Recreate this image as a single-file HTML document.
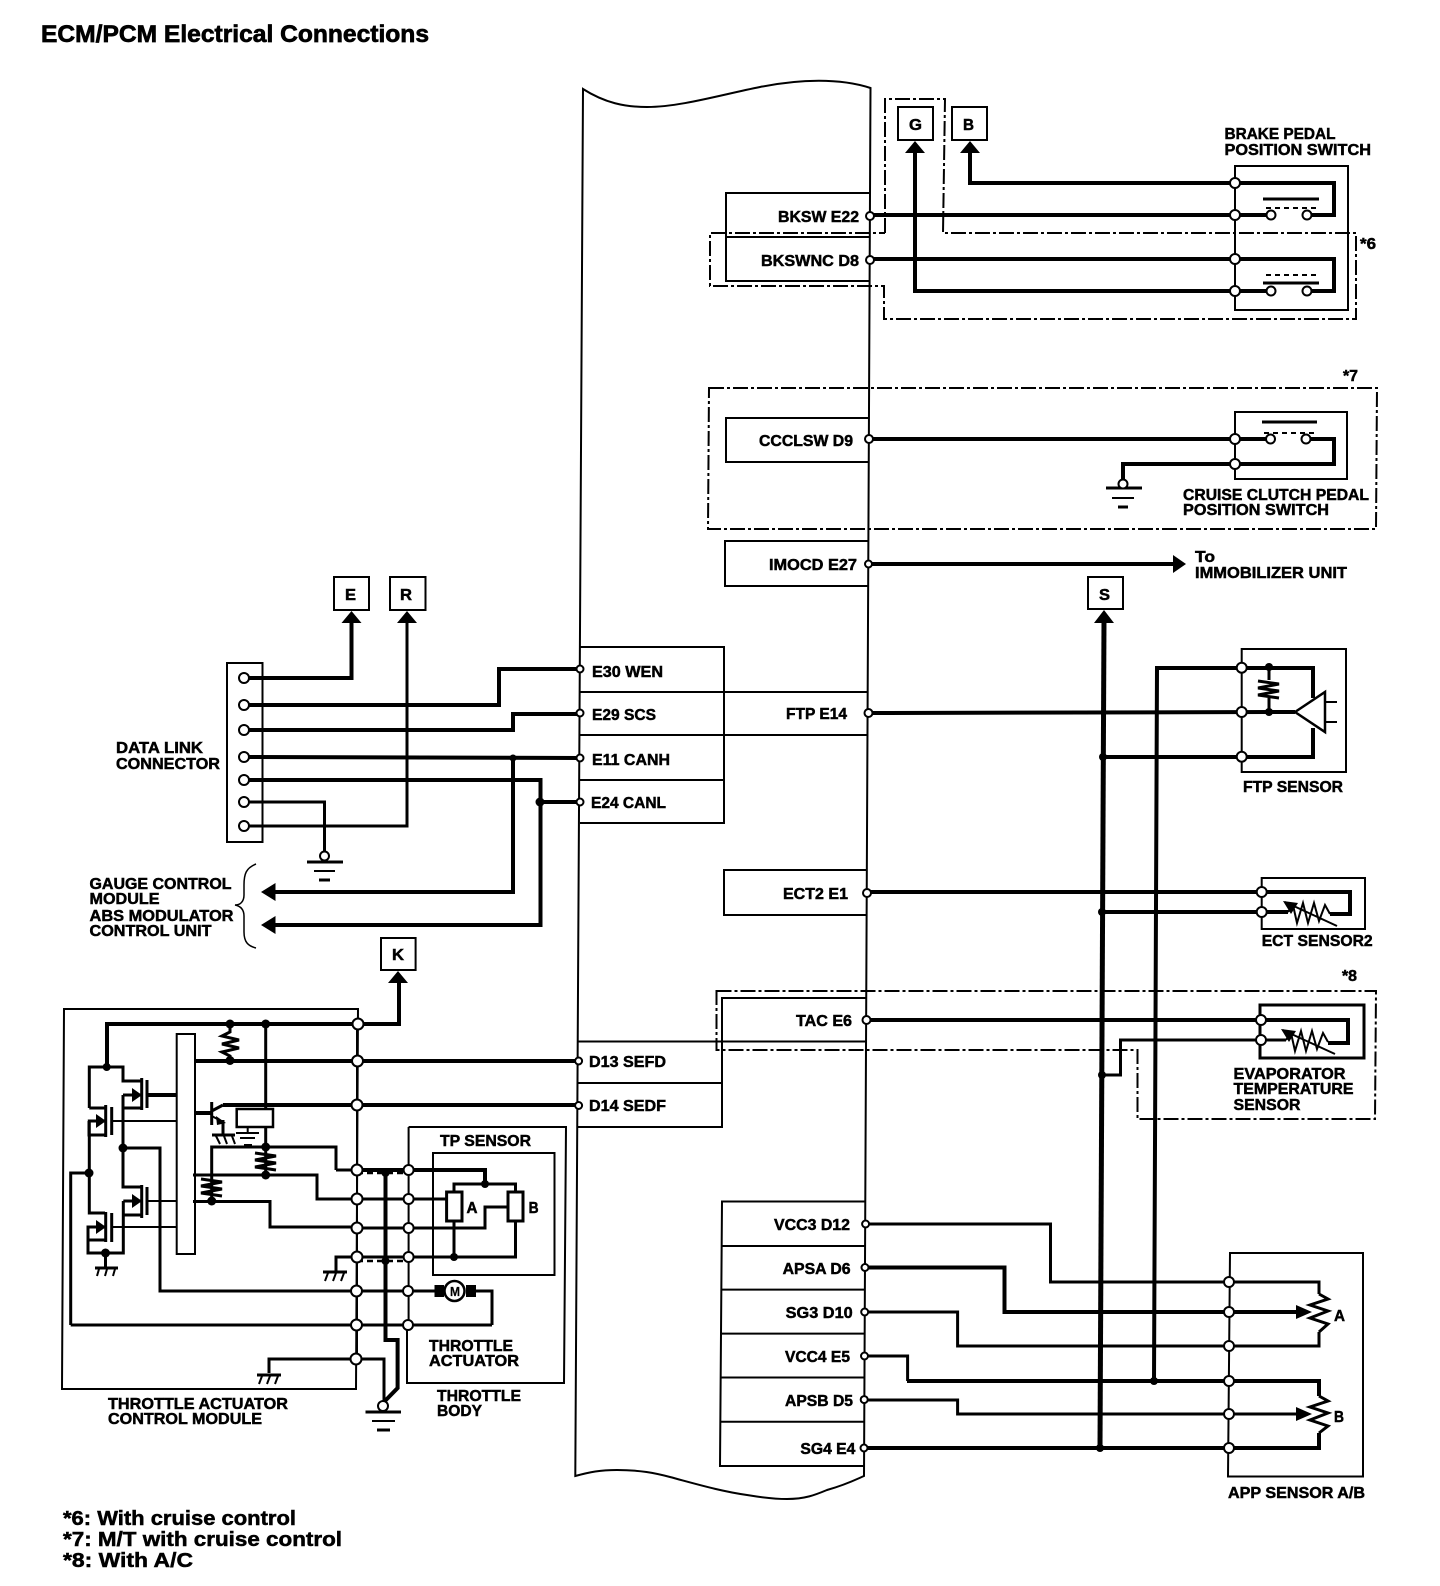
<!DOCTYPE html>
<html><head><meta charset="utf-8"><title>ECM/PCM Electrical Connections</title>
<style>
html,body{margin:0;padding:0;background:#fff}
svg{display:block}
text{font-family:"Liberation Sans",sans-serif;font-weight:bold;font-size:16px;fill:#000;stroke:#000;stroke-width:.5}
.w5{fill:none;stroke:#000;stroke-width:5}
.w4{fill:none;stroke:#000;stroke-width:4}
.w3{fill:none;stroke:#000;stroke-width:3}
.w2{fill:none;stroke:#000;stroke-width:2}
.dd{fill:none;stroke:#000;stroke-width:2;stroke-dasharray:15 3 3 3}
.d{fill:none;stroke:#000;stroke-width:2.5;stroke-dasharray:6 4}
.o{fill:#fff;stroke:#000;stroke-width:2}
</style></head><body>
<svg xmlns="http://www.w3.org/2000/svg" width="1440" height="1586" viewBox="0 0 1440 1586">
<rect width="1440" height="1586" fill="#fff"/>
<text x="41" y="42" style="font-size:24px;stroke-width:.7" textLength="388" lengthAdjust="spacingAndGlyphs">ECM/PCM Electrical Connections</text>

<!-- ECM body -->
<path class="w2" d="M583 89 C605 103 625 107 647 107 C680 107 720 95 760 87 C800 79 840 78 870.5 88 L864 1476 C855 1480 845 1485 827 1490 C815 1495 805 1499 787 1499 C775 1499 765 1498 747 1495 C720 1491 700 1485 670 1477 C655 1473 640 1470 617 1470 C600 1470 590 1472 575.3 1476 Z"/>

<!-- ECM pin boxes -->
<path class="w2" d="M870 193H726V281H870M726 237H870"/>
<path class="w2" d="M869 418H726V462H869"/>
<path class="w2" d="M868 541H725V586H868"/>
<path class="w2" d="M580 647H724V823H580M580 692H868M580 735H868M580 780H724"/>
<path class="w2" d="M867 870H724V915H867"/>
<path class="w2" d="M866 998H722V1127H578M578 1041.5H866M578 1083H722"/>
<path class="w2" d="M865 1201.5H722L720 1466H864M722 1246H865M722 1289.6H865M721 1333.6H865M721 1377.5H865M720 1421.8H864"/>

<!-- dash-dot option boxes -->
<path class="dd" d="M885 233V99H945L943 233H1356V319H884V286H710V233H885"/>
<path class="dd" d="M709 388H1377L1376 529H708Z"/>
<path class="dd" d="M716.5 991H1376L1375 1119H1137.5V1050H716.5Z"/>

<!-- Brake switch -->
<rect class="w2" x="898" y="107" width="35" height="33"/>
<rect class="w2" x="952" y="107" width="35" height="33"/>
<path class="w4" d="M970 150V183H1334V215H1307M870 215H1271"/>
<path class="w4" d="M870 259H1334V291H1307M1271 291H915V150"/>
<path d="M905 153L915 141L925 153Z M960 153L970 141L980 153Z"/>
<path class="w2" d="M1235 166H1348V310H1235Z"/>
<path class="w3" d="M1263 199H1319M1263 283H1319"/>
<path class="w2" d="M1266 208H1316M1266 275H1316" stroke-dasharray="5 4"/>
<circle class="o" cx="870" cy="216" r="4"/><circle class="o" cx="870" cy="260" r="4"/>
<circle class="o" cx="1235" cy="183" r="5"/><circle class="o" cx="1235" cy="215" r="5"/><circle class="o" cx="1235" cy="259" r="5"/><circle class="o" cx="1235" cy="291" r="5"/>
<circle class="o" cx="1271" cy="215" r="4.5"/><circle class="o" cx="1307" cy="215" r="4.5"/><circle class="o" cx="1271" cy="291" r="4.5"/><circle class="o" cx="1307" cy="291" r="4.5"/>

<!-- Cruise clutch -->
<path class="w2" d="M1235 412H1347V479H1235Z"/>
<path class="w4" d="M869 439H1270M1306 439H1334V464H1123V482"/>
<path class="w3" d="M1262 422H1317"/>
<path class="w2" d="M1264 433H1316" stroke-dasharray="5 4"/>
<circle class="o" cx="869" cy="439" r="4"/><circle class="o" cx="1235" cy="439" r="5"/><circle class="o" cx="1235" cy="464" r="5"/><circle class="o" cx="1270.5" cy="439" r="4.5"/><circle class="o" cx="1306" cy="439" r="4.5"/>
<path class="w3" d="M1106 488H1142"/><path class="w2" d="M1112 498H1134"/><path class="w3" d="M1118 507H1128"/>
<circle class="o" cx="1123" cy="484" r="4.5"/>

<!-- IMOCD -->
<path class="w4" d="M869 564H1175"/>
<path d="M1173 555L1186 564L1173 573Z"/>
<circle class="o" cx="868.5" cy="564" r="3.5"/>

<!-- S and main return -->
<rect class="w2" x="1088" y="577" width="35" height="32"/>
<path d="M1094 623L1104 610L1114 623Z"/>
<path class="w5" d="M1104 620L1100 1448"/>
<path class="w4" d="M1154 1381L1157 668H1313V698M1103 757H1313V728"/>

<!-- FTP -->
<path class="w2" d="M1241.7 649H1346V772H1241.7Z"/>
<path class="w4" d="M868 713L1295 712"/>
<path class="o" style="stroke-width:2.5" d="M1295 712L1325 692V732Z"/>
<path class="w2" d="M1325 702H1337M1325 722H1337"/>
<path class="w3" d="M1269 667V680M1269 698V712"/>
<path class="w3" d="M1258 681L1279 684L1258 688L1279 691L1258 695L1279 698"/>
<circle cx="1269" cy="667" r="4"/><circle cx="1269" cy="712" r="4"/><circle cx="1103" cy="757" r="4"/>
<circle class="o" cx="868.5" cy="713" r="4"/>
<circle class="o" cx="1241.7" cy="667.7" r="5"/><circle class="o" cx="1241.7" cy="712" r="5"/><circle class="o" cx="1241.7" cy="756.7" r="5"/>

<!-- ECT2 -->
<path class="w2" d="M1261.7 878H1365V929H1261.7Z"/>
<path class="w4" d="M867 892H1350V914H1330M1102 912H1288"/>
<path class="w2" d="M1288 912L1293 905L1297 923L1303 903L1308 923L1314 903L1319 921L1325 905L1330 914M1285 902L1337 926"/>
<path d="M1283 901L1298 903L1291 914Z"/>
<circle cx="1102" cy="912" r="4"/>
<circle class="o" cx="867" cy="893" r="4"/><circle class="o" cx="1261.7" cy="892" r="5"/><circle class="o" cx="1261.7" cy="912" r="5"/>

<!-- Evaporator -->
<path class="w2" d="M1260 1005H1364V1058H1260Z" style="stroke-width:3"/>
<path class="w4" d="M866 1020H1348V1043H1328"/>
<path class="w3" d="M1102 1075H1120.5V1040H1286"/>
<path class="w2" d="M1286 1040L1291 1033L1295 1051L1301 1031L1306 1051L1312 1031L1317 1049L1323 1033L1328 1042M1282.6 1030L1335 1054"/>
<path d="M1281 1029L1296 1031L1289 1042Z"/>
<circle cx="1102" cy="1075" r="4"/>
<circle class="o" cx="866.5" cy="1020" r="4"/><circle class="o" cx="1261" cy="1020" r="5"/><circle class="o" cx="1261" cy="1040" r="5"/>

<!-- APP sensor -->
<path class="w2" d="M1230 1253H1363V1476.5H1228Z"/>
<path class="w3" d="M866 1224H1050.5V1282H1319V1294"/>
<path class="w4" d="M865 1267.5H1004.5V1312H1298"/>
<path class="w3" d="M865 1312H957.6V1346H1319V1332"/>
<path class="w3" d="M865 1356H907.6V1381"/>
<path class="w4" d="M907 1381H1319V1396"/>
<path class="w3" d="M865 1400H957.6V1414H1298"/>
<path class="w4" d="M864 1448H1319V1433"/>
<path class="w3" d="M1319 1294L1328 1299L1310 1305L1328 1311L1310 1318L1328 1324L1319 1332M1319 1396L1328 1401L1310 1407L1328 1413L1310 1420L1328 1426L1319 1433"/>
<path d="M1296 1305L1312 1312L1296 1319Z M1296 1407L1312 1414L1296 1421Z"/>
<circle cx="1154" cy="1381" r="4"/><circle cx="1100" cy="1448" r="4"/>
<g>
<circle class="o" cx="865.6" cy="1224" r="3.5"/><circle class="o" cx="865" cy="1267.5" r="3.5"/><circle class="o" cx="864.7" cy="1312" r="3.5"/><circle class="o" cx="864.5" cy="1356" r="3.5"/><circle class="o" cx="864.2" cy="1399.6" r="3.5"/><circle class="o" cx="864" cy="1448" r="3.5"/>
<circle class="o" cx="1229" cy="1282" r="5"/><circle class="o" cx="1229" cy="1312" r="5"/><circle class="o" cx="1229" cy="1346" r="5"/><circle class="o" cx="1229" cy="1381" r="5"/><circle class="o" cx="1229" cy="1414" r="5"/><circle class="o" cx="1229" cy="1448" r="5"/>
</g>

<!-- Data link connector -->
<rect class="w2" x="227" y="663" width="35.5" height="179"/>
<rect class="w2" x="334" y="577" width="35" height="33"/>
<rect class="w2" x="390" y="577" width="35.5" height="33"/>
<rect class="w2" x="381" y="938" width="34.6" height="32"/>
<path class="w4" d="M244 678H351.5V620"/>
<path class="w3" d="M244 826H407V620"/>
<path class="w4" d="M244 705H499V669H580"/>
<path class="w4" d="M244 730H513V714H580"/>
<path class="w4" d="M244 757L580 758M513 758V892H272"/>
<path class="w4" d="M244 780H540.5V925H272M540 802H580"/>
<path class="w3" d="M244 802H324.5V852"/>
<path d="M341.5 623L351.5 611L361.5 623Z M397 623L407 611L417 623Z M388 983L398 971L408 983Z M275.5 883L261 892L275.5 901Z M275.5 916L261 925L275.5 934Z"/>
<circle cx="513" cy="758" r="3.5"/><circle cx="540" cy="802" r="4.5"/>
<path class="w3" d="M307 862H343"/><path class="w2" d="M314 871H335"/><path class="w3" d="M319 880H330"/>
<circle class="o" cx="324.5" cy="856" r="4.5"/>
<g>
<circle class="o" cx="244" cy="678" r="5"/><circle class="o" cx="244" cy="705" r="5"/><circle class="o" cx="244" cy="730" r="5"/><circle class="o" cx="244" cy="757" r="5"/><circle class="o" cx="244" cy="780" r="5"/><circle class="o" cx="244" cy="802" r="5"/><circle class="o" cx="244" cy="826" r="5"/>
<circle class="o" cx="580" cy="669" r="3.5"/><circle class="o" cx="580" cy="713" r="3.5"/><circle class="o" cx="580" cy="758" r="3.5"/><circle class="o" cx="580" cy="802" r="3.5"/>
</g>
<path class="w2" style="stroke-width:1.5" d="M256 864C246 868 244 874 244 885V895C244 902 240 905 235 905C240 906 244 909 244 916V932C244 942 248 946 256 948"/>

<!-- TAC module -->
<path class="w2" d="M64 1009H358L356 1389H62Z"/>
<rect class="w2" x="176.7" y="1034" width="18.3" height="220"/>
<path class="w4" d="M399 983V1024H107V1067"/>
<path class="w3" d="M89.3 1108V1067H123V1081H141.7"/>
<path class="w3" d="M89.3 1108H105M123 1095V1187H141.7M123 1108H141.7M123 1095H141.7"/>
<path class="w3" d="M141.7 1078V1110M105.7 1105V1137M141.7 1185V1218M105.7 1212V1242"/>
<path class="w3" d="M147 1080V1108M111.7 1107V1135M147 1187V1215M111.7 1213V1242"/>
<path class="w4" d="M147 1095H176.7"/>
<path class="w2" d="M111.7 1121H176.7M147 1201H176.7M111.7 1227H176.7"/>
<path class="w3" d="M105.7 1121H89.3V1213H105M89 1121V1135H105.7M70.7 1325V1173H89"/>
<path class="w3" d="M123.3 1201H141.7M123.3 1201V1253H88V1227H105.7M88 1240H105.7M123.3 1215H141.7"/>
<path class="w3" d="M123 1148H160V1291H357"/>
<path class="w3" d="M70.7 1325H492"/>
<path d="M132 1088L142 1095L132 1102Z M96 1114L106 1121L96 1128Z M132 1194L142 1201L132 1208Z M96 1220L106 1227L96 1234Z"/>
<circle cx="106.7" cy="1067" r="4"/><circle cx="89" cy="1173" r="4.5"/><circle cx="123" cy="1148" r="4.5"/><circle cx="105.5" cy="1253" r="4.5"/>
<path class="w3" d="M105.5 1253V1268M95 1268H118"/><path class="w2" d="M99 1269L97 1276M107 1269L105 1276M115 1269L113 1276"/>

<path class="w4" d="M195 1061H578"/>
<path class="w3" d="M230 1024V1032L222 1036L239 1040L222 1044L239 1048L222 1052L230 1056V1061"/>
<circle cx="230" cy="1024" r="4.5"/><circle cx="230" cy="1060.5" r="4.5"/><circle cx="265.7" cy="1024" r="4.5"/>
<path class="w3" d="M265.7 1024V1147"/>
<path class="w4" d="M223 1105H578"/>
<path class="w3" d="M211.7 1111L223 1105M211.7 1102V1125"/>
<path class="w4" d="M195 1113H211.7"/>
<path class="w2" d="M211.7 1116L223 1122"/><path d="M216 1116L226 1123L217 1125Z"/>
<path class="w3" d="M223 1120V1135M212 1135H235"/>
<path class="w2" d="M216 1136L220 1144M224 1136L227 1144M232 1136L235 1144"/>
<rect class="o" style="stroke-width:2.5" x="236.7" y="1109" width="36.3" height="18"/>
<path class="w2" d="M247.7 1127V1133M236 1133H259"/><path class="w2" d="M240 1138H255M244 1145H252"/>
<path class="w3" d="M336 1170H357M211.7 1201V1147H336V1170"/>
<path class="w3" d="M193 1175H317V1199H357M193 1201.5H270V1227H357"/>
<path class="w3" d="M265.7 1147V1175"/>
<path class="w3" d="M255 1153L276 1156L255 1160L276 1163L255 1167L276 1170"/>
<path class="w3" d="M201 1179L222 1182L201 1186L222 1189L201 1193L222 1196"/>
<circle cx="265.7" cy="1147" r="4.5"/><circle cx="265.7" cy="1175" r="4.5"/><circle cx="211.7" cy="1201" r="4.5"/>
<path class="w3" d="M357 1257H336V1272M323 1272H347"/><path class="w2" d="M328 1273L325 1281M336 1273L333 1281M344 1273L341 1281"/>

<!-- throttle body -->
<path class="w2" d="M408.6 1127H566L564 1383H407V1325"/>
<path class="w2" d="M408.6 1127V1325M357 1024V1359"/>
<path class="w2" d="M433 1153H554.5V1275H433Z"/>
<path class="w4" d="M357 1170H485V1184"/>
<path class="w3" d="M454 1192V1184H515.5V1192"/>
<path class="w3" d="M357 1199H446.6"/>
<path class="w3" d="M357 1228H485V1207H508"/>
<path class="w3" d="M454 1221V1257M515.5 1221V1257H357"/>
<rect class="o" style="stroke-width:3" x="446.6" y="1192" width="15.4" height="29"/>
<rect class="o" style="stroke-width:3" x="508" y="1192" width="15" height="29"/>
<circle cx="485" cy="1184" r="4"/><circle cx="454" cy="1257" r="4"/>
<path class="w3" d="M357 1291H435M475 1291H492V1325"/>
<path d="M434.5 1285H444V1297H434.5Z M466 1285H476V1297H466Z"/>
<circle class="o" style="stroke-width:2.5" cx="454.5" cy="1291" r="10"/>
<text x="450" y="1296" style="font-size:13px;stroke-width:.2" textLength="10" lengthAdjust="spacingAndGlyphs">M</text>
<path class="w3" d="M269 1373V1359H357M384 1403V1359H357"/>
<path class="w4" d="M385.5 1173V1340H397.6V1388L383 1403"/>
<path class="d" d="M357 1173H408M357 1261H408"/>
<circle cx="385.5" cy="1173" r="4"/><circle cx="385.5" cy="1261" r="4"/>
<path class="w3" d="M257 1375H281"/><path class="w2" d="M262 1376L259 1384M270 1376L267 1384M278 1376L275 1384"/>
<path class="w3" d="M365.5 1412H401"/><path class="w2" d="M372 1421H395"/><path class="w3" d="M377 1430H390"/>
<circle class="o" cx="383" cy="1406" r="5"/>
<g>
<circle class="o" cx="358" cy="1024" r="5.5"/><circle class="o" cx="357.5" cy="1061" r="5.5"/><circle class="o" cx="357" cy="1105" r="5.5"/><circle class="o" cx="357" cy="1170" r="5.5"/><circle class="o" cx="357" cy="1199" r="5.5"/><circle class="o" cx="357" cy="1228" r="5.5"/><circle class="o" cx="357" cy="1257" r="5.5"/><circle class="o" cx="356.5" cy="1291" r="5.5"/><circle class="o" cx="356.5" cy="1325" r="5.5"/><circle class="o" cx="356" cy="1359" r="5.5"/>
<circle class="o" cx="408.6" cy="1170" r="5"/><circle class="o" cx="408.6" cy="1199" r="5"/><circle class="o" cx="408.6" cy="1228" r="5"/><circle class="o" cx="408.6" cy="1257" r="5"/><circle class="o" cx="408" cy="1291" r="5"/><circle class="o" cx="408" cy="1325" r="5"/>
<circle class="o" cx="578.6" cy="1061" r="3.5"/><circle class="o" cx="578.6" cy="1105.5" r="3.5"/>
</g>

<!-- labels -->
<text x="909" y="130" textLength="13" lengthAdjust="spacingAndGlyphs">G</text>
<text x="963" y="130" textLength="11" lengthAdjust="spacingAndGlyphs">B</text>
<text x="345" y="600" textLength="11" lengthAdjust="spacingAndGlyphs">E</text>
<text x="400" y="600" textLength="12" lengthAdjust="spacingAndGlyphs">R</text>
<text x="392" y="960" textLength="12" lengthAdjust="spacingAndGlyphs">K</text>
<text x="1099" y="600" textLength="11" lengthAdjust="spacingAndGlyphs">S</text>

<text x="1224.5" y="139" textLength="111" lengthAdjust="spacingAndGlyphs">BRAKE PEDAL</text>
<text x="1224.5" y="155" textLength="146.5" lengthAdjust="spacingAndGlyphs">POSITION SWITCH</text>
<text x="1360" y="249" textLength="16" lengthAdjust="spacingAndGlyphs">*6</text>
<text x="1343" y="381" textLength="15" lengthAdjust="spacingAndGlyphs">*7</text>
<text x="1342" y="981" textLength="15" lengthAdjust="spacingAndGlyphs">*8</text>
<text x="778" y="222" textLength="81" lengthAdjust="spacingAndGlyphs">BKSW E22</text>
<text x="761" y="266" textLength="98" lengthAdjust="spacingAndGlyphs">BKSWNC D8</text>
<text x="759" y="446" textLength="94" lengthAdjust="spacingAndGlyphs">CCCLSW D9</text>
<text x="1183" y="500" textLength="186" lengthAdjust="spacingAndGlyphs">CRUISE CLUTCH PEDAL</text>
<text x="1183" y="515" textLength="146" lengthAdjust="spacingAndGlyphs">POSITION SWITCH</text>
<text x="769" y="570" textLength="88" lengthAdjust="spacingAndGlyphs">IMOCD E27</text>
<text x="1195" y="562" textLength="20" lengthAdjust="spacingAndGlyphs">To</text>
<text x="1195" y="578" textLength="152" lengthAdjust="spacingAndGlyphs">IMMOBILIZER UNIT</text>
<text x="786" y="719" textLength="61" lengthAdjust="spacingAndGlyphs">FTP E14</text>
<text x="1243" y="792" textLength="100" lengthAdjust="spacingAndGlyphs">FTP SENSOR</text>
<text x="783" y="899" textLength="65" lengthAdjust="spacingAndGlyphs">ECT2 E1</text>
<text x="1261.7" y="946" textLength="111" lengthAdjust="spacingAndGlyphs">ECT SENSOR2</text>
<text x="796" y="1026" textLength="56" lengthAdjust="spacingAndGlyphs">TAC E6</text>
<text x="1233.5" y="1079" textLength="112" lengthAdjust="spacingAndGlyphs">EVAPORATOR</text>
<text x="1233.5" y="1094" textLength="120" lengthAdjust="spacingAndGlyphs">TEMPERATURE</text>
<text x="1233.5" y="1110" textLength="67" lengthAdjust="spacingAndGlyphs">SENSOR</text>
<text x="774" y="1230" textLength="76" lengthAdjust="spacingAndGlyphs">VCC3 D12</text>
<text x="782.6" y="1274" textLength="68" lengthAdjust="spacingAndGlyphs">APSA D6</text>
<text x="785.7" y="1318" textLength="67" lengthAdjust="spacingAndGlyphs">SG3 D10</text>
<text x="785" y="1362" textLength="65" lengthAdjust="spacingAndGlyphs">VCC4 E5</text>
<text x="785" y="1406" textLength="68" lengthAdjust="spacingAndGlyphs">APSB D5</text>
<text x="800.4" y="1454" textLength="55" lengthAdjust="spacingAndGlyphs">SG4 E4</text>
<text x="1334" y="1321" textLength="11" lengthAdjust="spacingAndGlyphs">A</text>
<text x="1334" y="1422" textLength="10" lengthAdjust="spacingAndGlyphs">B</text>
<text x="1228" y="1498" textLength="137" lengthAdjust="spacingAndGlyphs">APP SENSOR A/B</text>

<text x="592" y="677" textLength="71" lengthAdjust="spacingAndGlyphs">E30 WEN</text>
<text x="592" y="720" textLength="64" lengthAdjust="spacingAndGlyphs">E29 SCS</text>
<text x="592" y="765" textLength="78" lengthAdjust="spacingAndGlyphs">E11 CANH</text>
<text x="591" y="808" textLength="75" lengthAdjust="spacingAndGlyphs">E24 CANL</text>
<text x="589" y="1067" textLength="77" lengthAdjust="spacingAndGlyphs">D13 SEFD</text>
<text x="589" y="1111" textLength="77" lengthAdjust="spacingAndGlyphs">D14 SEDF</text>

<text x="116" y="753" textLength="87" lengthAdjust="spacingAndGlyphs">DATA LINK</text>
<text x="116" y="769" textLength="104" lengthAdjust="spacingAndGlyphs">CONNECTOR</text>
<text x="89.5" y="889" textLength="142" lengthAdjust="spacingAndGlyphs">GAUGE CONTROL</text>
<text x="89.5" y="904" textLength="70" lengthAdjust="spacingAndGlyphs">MODULE</text>
<text x="89.5" y="921" textLength="144" lengthAdjust="spacingAndGlyphs">ABS MODULATOR</text>
<text x="89.5" y="936" textLength="122" lengthAdjust="spacingAndGlyphs">CONTROL UNIT</text>

<text x="440" y="1146" textLength="91" lengthAdjust="spacingAndGlyphs">TP SENSOR</text>
<text x="466.5" y="1213" textLength="11" lengthAdjust="spacingAndGlyphs">A</text>
<text x="528.6" y="1213" textLength="10" lengthAdjust="spacingAndGlyphs">B</text>
<text x="429" y="1351" textLength="84" lengthAdjust="spacingAndGlyphs">THROTTLE</text>
<text x="429" y="1366" textLength="90" lengthAdjust="spacingAndGlyphs">ACTUATOR</text>
<text x="437" y="1401" textLength="84" lengthAdjust="spacingAndGlyphs">THROTTLE</text>
<text x="437" y="1416" textLength="45" lengthAdjust="spacingAndGlyphs">BODY</text>
<text x="108" y="1409" textLength="180" lengthAdjust="spacingAndGlyphs">THROTTLE ACTUATOR</text>
<text x="108" y="1424" textLength="154" lengthAdjust="spacingAndGlyphs">CONTROL MODULE</text>

<text x="63" y="1525" style="font-size:20px" textLength="233" lengthAdjust="spacingAndGlyphs">*6: With cruise control</text>
<text x="63" y="1546" style="font-size:20px" textLength="279" lengthAdjust="spacingAndGlyphs">*7: M/T with cruise control</text>
<text x="63" y="1567" style="font-size:20px" textLength="130" lengthAdjust="spacingAndGlyphs">*8: With A/C</text>
</svg>
</body></html>
